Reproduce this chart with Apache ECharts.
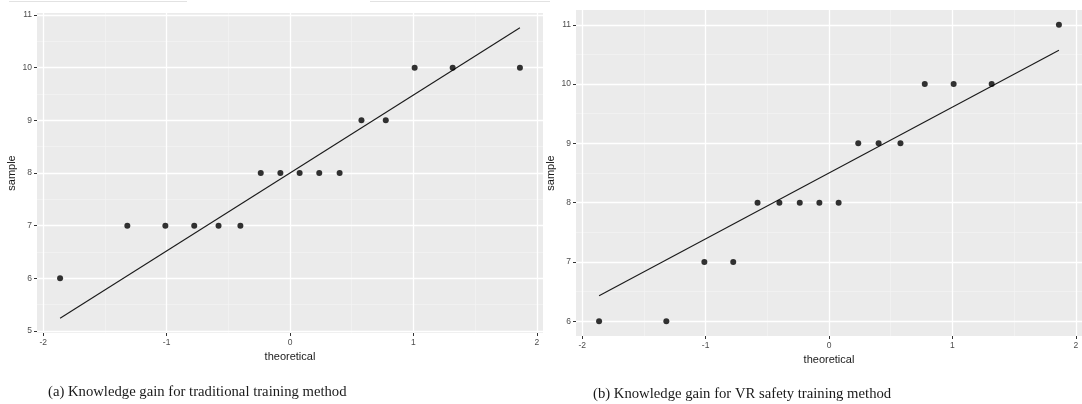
<!DOCTYPE html>
<html>
<head>
<meta charset="utf-8">
<script src="https://cdn.jsdelivr.net/npm/echarts@6/dist/echarts.min.js"></script>
<style>
html,body{margin:0;padding:0;background:#fff;}
#c{width:1082px;height:404px;}
</style>
</head>
<body>
<div id="c"></div>
<script>
// ---- data ----
var theoretical = [-1.863, -1.318, -1.010, -0.776, -0.579, -0.402, -0.237, -0.078, 0.078, 0.237, 0.402, 0.579, 0.776, 1.010, 1.318, 1.863];
var sampleA = [6, 7, 7, 7, 7, 7, 8, 8, 8, 8, 8, 9, 9, 10, 10, 10];
var sampleB = [6, 6, 7, 7, 8, 8, 8, 8, 8, 9, 9, 9, 10, 10, 10, 11];
var lineXA = [-1.863, 1.863];
var lineYA = [5.24, 10.76];
var lineXB = [-1.863, 1.863];
var lineYB = [6.43, 10.57];
var xTicks = [-2, -1, 0, 1, 2];
var xMinor = [-1.5, -0.5, 0.5, 1.5];
var yTicksA = [5, 6, 7, 8, 9, 10, 11];
var yMinorA = [5.5, 6.5, 7.5, 8.5, 9.5, 10.5];
var yTicksB = [6, 7, 8, 9, 10, 11];
var yMinorB = [6.5, 7.5, 8.5, 9.5, 10.5];
var captionA = '(a) Knowledge gain for traditional training method';
var captionB = '(b) Knowledge gain for VR safety training method';

function pairs(xs, ys) { return xs.map(function (x, i) { return [x, ys[i]]; }); }

var FONT = 'Liberation Sans, Arial, sans-serif';
var SERIF = 'Liberation Serif, Times New Roman, serif';

function gridLines(xMaj, xMin, yMaj, yMin) {
  var d = [];
  var minor = { color: '#f4f4f4', width: 0.7, type: 'solid' };
  var major = { color: '#ffffff', width: 1.3, type: 'solid' };
  xMin.forEach(function (v) { d.push({ xAxis: v, lineStyle: minor }); });
  yMin.forEach(function (v) { d.push({ yAxis: v, lineStyle: minor }); });
  xMaj.forEach(function (v) { d.push({ xAxis: v, lineStyle: major }); });
  yMaj.forEach(function (v) { d.push({ yAxis: v, lineStyle: major }); });
  return d;
}

function xAx(idx) {
  return {
    type: 'value', gridIndex: idx, min: -2.05, max: 2.05, position: 'bottom',
    name: 'theoretical', nameLocation: 'middle', nameGap: 16,
    nameTextStyle: { fontFamily: FONT, fontSize: 11, color: '#1a1a1a' },
    axisLine: { show: false, onZero: false },
    axisTick: { show: true, length: 3, lineStyle: { color: '#333333', width: 1 }, customValues: xTicks },
    axisLabel: { customValues: xTicks, margin: 5, fontFamily: FONT, fontSize: 8.5, color: '#4d4d4d',
      formatter: function (v) { return String(v); } },
    splitLine: { show: false }
  };
}
function yAx(idx, min, max, ticks) {
  return {
    type: 'value', gridIndex: idx, min: min, max: max, position: 'left',
    name: 'sample', nameLocation: 'middle', nameGap: 20, nameRotate: 90,
    nameTextStyle: { fontFamily: FONT, fontSize: 11, color: '#1a1a1a' },
    axisLine: { show: false, onZero: false },
    axisTick: { show: true, length: 3, lineStyle: { color: '#333333', width: 1 }, customValues: ticks },
    axisLabel: { customValues: ticks, margin: 5, fontFamily: FONT, fontSize: 8.5, color: '#4d4d4d',
      formatter: function (v) { return String(v); } },
    splitLine: { show: false }
  };
}

var chart = echarts.init(document.getElementById('c'), null, { renderer: 'canvas' });
chart.setOption({
  animation: false,
  backgroundColor: '#ffffff',
  title: [
    { text: captionA, left: 43, top: 380, textStyle: { fontFamily: SERIF, fontSize: 14.7, fontWeight: 'normal', color: '#1a1a1a' } },
    { text: captionB, left: 588, top: 382, textStyle: { fontFamily: SERIF, fontSize: 14.7, fontWeight: 'normal', color: '#1a1a1a' } }
  ],
  grid: [
    { left: 37, top: 13, width: 506, height: 320, show: true, backgroundColor: '#ebebeb', borderWidth: 0 },
    { left: 576, top: 10, width: 512, height: 326, show: true, backgroundColor: '#ebebeb', borderWidth: 0 }
  ],
  xAxis: [xAx(0), xAx(1)],
  yAxis: [yAx(0, 4.96, 11.04, yTicksA), yAx(1, 5.75, 11.25, yTicksB)],
  graphic: [
    { type: 'line', shape: { x1: 9, y1: 1.5, x2: 187, y2: 1.5 }, style: { stroke: '#e2e2e2', lineWidth: 1 } },
    { type: 'line', shape: { x1: 370, y1: 1.5, x2: 550, y2: 1.5 }, style: { stroke: '#e2e2e2', lineWidth: 1 } }
  ],
  series: [
    { type: 'line', xAxisIndex: 0, yAxisIndex: 0, data: [], z: 0, silent: true,
      markLine: { silent: true, z: 0, symbol: 'none', label: { show: false }, animation: false, data: gridLines(xTicks, xMinor, yTicksA, yMinorA) } },
    { type: 'line', xAxisIndex: 1, yAxisIndex: 1, data: [], z: 0, silent: true,
      markLine: { silent: true, z: 0, symbol: 'none', label: { show: false }, animation: false, data: gridLines(xTicks, xMinor, yTicksB, yMinorB) } },
    { type: 'line', xAxisIndex: 0, yAxisIndex: 0, data: pairs(lineXA, lineYA), showSymbol: false, z: 3,
      lineStyle: { color: '#1a1a1a', width: 1.1 } },
    { type: 'line', xAxisIndex: 1, yAxisIndex: 1, data: pairs(lineXB, lineYB), showSymbol: false, z: 3,
      lineStyle: { color: '#1a1a1a', width: 1.1 } },
    { type: 'scatter', xAxisIndex: 0, yAxisIndex: 0, data: pairs(theoretical, sampleA), symbolSize: 6, z: 4,
      itemStyle: { color: '#000000' } },
    { type: 'scatter', xAxisIndex: 1, yAxisIndex: 1, data: pairs(theoretical, sampleB), symbolSize: 6, z: 4,
      itemStyle: { color: '#000000' } }
  ]
});
</script>
</body>
</html>
